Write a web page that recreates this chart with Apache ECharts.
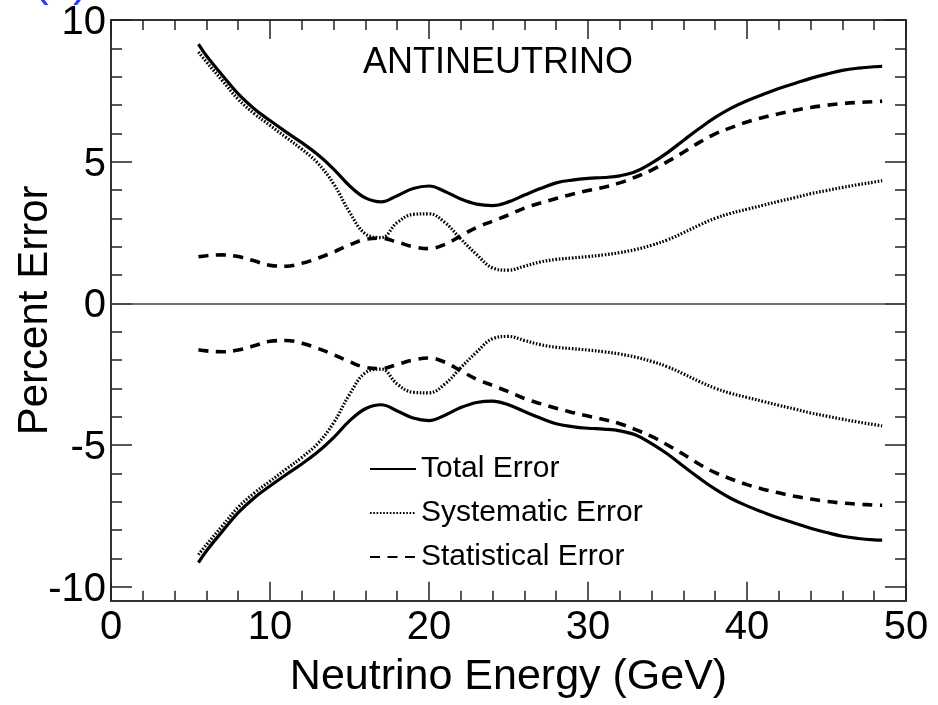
<!DOCTYPE html>
<html>
<head>
<meta charset="utf-8">
<script src="https://cdn.jsdelivr.net/npm/echarts@6/dist/echarts.min.js"></script>
<style>
  html, body { margin: 0; padding: 0; background: #ffffff; }
  #chart { width: 938px; height: 705px; }
</style>
</head>
<body>
<div id="chart"></div>
<script>
// Neutrino energy sample points (GeV)
const energy = [
  5.5, 6, 7, 8, 9, 10, 11, 12, 13, 14,
  15, 16, 17, 18, 19, 20, 21, 22, 23, 24,
  25, 26, 27, 28, 29, 30, 31, 32, 33, 34,
  35, 36, 37, 38, 39, 40, 41, 42, 43, 44,
  45, 46, 47, 48, 48.5
];

// Percent errors (upper envelope; the lower envelope is the same band with opposite sign)
const totalErr = [
  9.15, 8.74, 8.05, 7.39, 6.87, 6.45, 6.05, 5.67, 5.25, 4.74,
  4.15, 3.72, 3.58, 3.80, 4.05, 4.14, 3.95, 3.68, 3.50, 3.45,
  3.58, 3.82, 4.05, 4.25, 4.35, 4.41, 4.44, 4.50, 4.65, 4.95,
  5.32, 5.75, 6.17, 6.56, 6.89, 7.15, 7.37, 7.58, 7.76, 7.94,
  8.09, 8.22, 8.30, 8.35, 8.36
];
const systErr = [
  8.87, 8.52, 7.86, 7.20, 6.70, 6.28, 5.86, 5.44, 4.95, 4.22,
  3.22, 2.45, 2.32, 2.85, 3.14, 3.16, 2.85, 2.27, 1.72, 1.25,
  1.17, 1.31, 1.46, 1.55, 1.60, 1.65, 1.71, 1.79, 1.90, 2.05,
  2.24, 2.49, 2.76, 3.00, 3.18, 3.32, 3.46, 3.60, 3.73, 3.87,
  3.98, 4.09, 4.19, 4.28, 4.33
];
const statErr = [
  1.64, 1.68, 1.71, 1.65, 1.50, 1.34, 1.31, 1.41, 1.59, 1.81,
  2.06, 2.26, 2.30, 2.16, 2.00, 1.93, 2.08, 2.38, 2.68, 2.90,
  3.12, 3.36, 3.54, 3.70, 3.85, 3.98, 4.10, 4.25, 4.46, 4.70,
  5.00, 5.33, 5.68, 5.98, 6.20, 6.40, 6.56, 6.69, 6.81, 6.91,
  6.99, 7.05, 7.09, 7.12, 7.13
];

// Axis tick values
const yMajorTicks = [-10, -5, 0, 5, 10];
const yMinorTicks = [-10, -9, -8, -7, -6, -5, -4, -3, -2, -1, 0, 1, 2, 3, 4, 5, 6, 7, 8, 9, 10];

const seriesNames = ['Total Error', 'Systematic Error', 'Statistical Error'];

const FONT = '"Liberation Sans", Arial, Helvetica, sans-serif';

const upper = vals => energy.map((e, i) => [e, vals[i]]);
const lower = vals => energy.map((e, i) => [e, -vals[i]]);

const styles = [
  { width: 3.2, type: 'solid' },
  { width: 3.2, type: [1.6, 1.7] },
  { width: 3.6, type: [10, 7.5] }
];

const bands = [totalErr, systErr, statErr];
const series = [];
bands.forEach((vals, k) => {
  [upper(vals), lower(vals)].forEach(data => {
    series.push({
      name: seriesNames[k],
      type: 'line',
      data: data,
      xAxisIndex: 0,
      yAxisIndex: 0,
      smooth: 0.4,
      symbol: 'none',
      showSymbol: false,
      lineStyle: { color: '#000', width: styles[k].width, type: styles[k].type, cap: 'butt' },
      itemStyle: { color: '#000' },
      z: 3
    });
  });
});

// Zero reference line
series[0].markLine = {
  silent: true,
  symbol: ['none', 'none'],
  label: { show: false },
  lineStyle: { color: '#444', width: 1.5, type: 'solid' },
  data: [{ yAxis: 0 }],
  animation: false
};

const axisLineStyle = { show: true, onZero: false, lineStyle: { color: '#333', width: 2 } };
const tickLine = { color: '#222', width: 1.5 };

function yAxisDef(position, ticks, len, withLine, withLabels) {
  return {
    type: 'value',
    min: -10.5,
    max: 10,
    position: position,
    axisLine: withLine ? axisLineStyle : { show: false, onZero: false },
    axisTick: { show: true, inside: true, length: len, customValues: ticks, lineStyle: tickLine },
    axisLabel: withLabels
      ? {
          show: true,
          customValues: yMajorTicks,
          color: '#000',
          margin: 5,
          formatter: v => '{n|' + v + '}',
          rich: { n: { fontSize: 40, fontFamily: FONT, color: '#000', padding: [6, 0, 0, 0] } }
        }
      : { show: false },
    splitLine: { show: false }
  };
}

const yAxes = [
  yAxisDef('left', yMajorTicks, 21, true, true),
  yAxisDef('left', yMinorTicks, 11, false, false),
  yAxisDef('right', yMajorTicks, 21, true, false),
  yAxisDef('right', yMinorTicks, 11, false, false)
];
yAxes[0].name = 'Percent Error';
yAxes[0].nameLocation = 'middle';
yAxes[0].nameRotate = 90;
yAxes[0].nameGap = 55;
yAxes[0].nameMoveOverlap = false;
yAxes[0].nameTextStyle = { fontSize: 42, color: '#000', fontFamily: FONT };

function xAxisDef(position, withLabels) {
  return {
    type: 'value',
    min: 0,
    max: 50,
    interval: 10,
    position: position,
    axisLine: axisLineStyle,
    axisTick: { show: true, inside: true, length: 19, lineStyle: tickLine },
    minorTick: { show: true, splitNumber: 5, length: 10, lineStyle: tickLine },
    axisLabel: withLabels
      ? { show: true, fontSize: 40, color: '#000', fontFamily: FONT, margin: 7 }
      : { show: false },
    splitLine: { show: false },
    minorSplitLine: { show: false }
  };
}

const xAxes = [xAxisDef('bottom', true), xAxisDef('top', false)];
xAxes[0].name = 'Neutrino Energy (GeV)';
xAxes[0].nameLocation = 'middle';
xAxes[0].nameGap = 55;
xAxes[0].nameMoveOverlap = false;
xAxes[0].nameTextStyle = { fontSize: 43, color: '#000', fontFamily: FONT };

const chart = echarts.init(document.getElementById('chart'), null, { renderer: 'canvas' });
chart.setOption({
  backgroundColor: '#ffffff',
  animation: false,
  grid: { left: 111, right: 32, top: 20, bottom: 104.2, containLabel: false, outerBoundsMode: 'none' },
  xAxis: xAxes,
  yAxis: yAxes,
  legend: {
    data: seriesNames,
    orient: 'vertical',
    left: 364,
    top: 449,
    itemWidth: 46,
    itemHeight: 14,
    itemGap: 14,
    selectedMode: false,
    itemStyle: { opacity: 0 },
    textStyle: { fontSize: 30, color: '#000', fontFamily: FONT }
  },
  graphic: [
    {
      type: 'text',
      left: 363,
      top: 45,
      style: { text: 'ANTINEUTRINO', fontSize: 36, fill: '#000', fontFamily: FONT }
    },
    {
      type: 'text',
      left: 34,
      top: -38,
      style: { text: '(b)', fontSize: 44, fill: '#1f3cff', fontFamily: FONT }
    }
  ],
  series: series
});
</script>
</body>
</html>
